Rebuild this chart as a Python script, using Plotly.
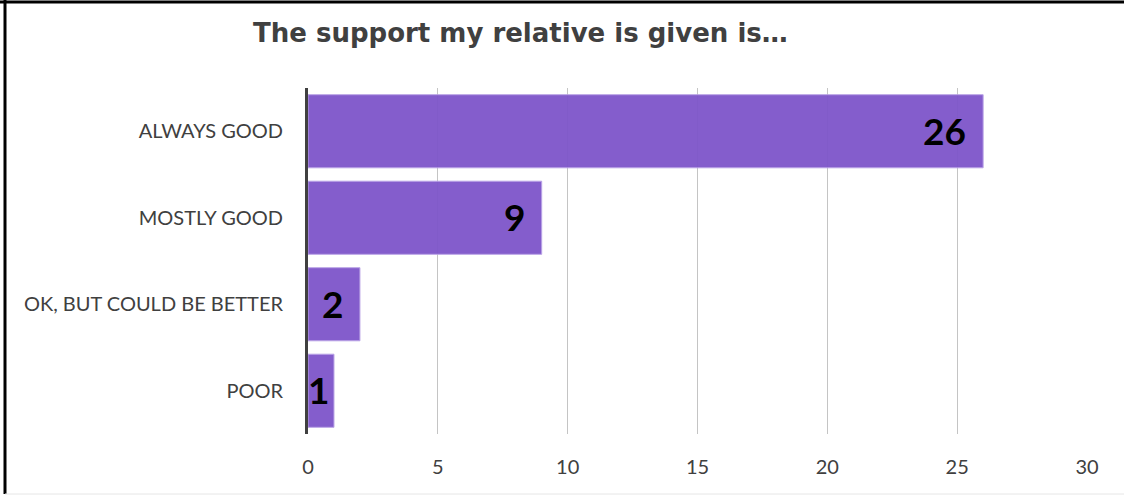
import plotly.graph_objects as go

# Survey responses
categories = ["ALWAYS GOOD", "MOSTLY GOOD", "OK, BUT COULD BE BETTER", "POOR"]
counts = [26, 9, 2, 1]
x_ticks = [0, 5, 10, 15, 20, 25, 30]

W, H = 1124, 495
ML, MR, MT, MB = 308, 37, 88, 61
plot_w = W - ML - MR
plot_h = H - MT - MB

BAR = "#7f57ca"
TXT = "#404040"

fig = go.Figure(
    go.Bar(
        x=counts,
        y=categories,
        orientation="h",
        marker=dict(color=BAR, opacity=0.96, line=dict(color="#b8a0e6", width=1)),
        hoverinfo="skip",
    )
)

# Value labels sitting inside the bar ends
for cat, v in zip(categories, counts):
    fig.add_annotation(
        x=v, y=cat, xref="x", yref="y",
        text=f"<b>{v}</b>", showarrow=False,
        xanchor="right", yanchor="middle",
        xshift=-15 if v >= 2 else -3, yshift=1,
        font=dict(family="Lato", size=37, color="#000000"),
    )

# Frame: heavy top and left edges, faint bottom edge
px_x = lambda px: (px - ML) / plot_w
px_y = lambda py: 1 - (py - MT) / plot_h
fig.add_shape(type="line", xref="paper", yref="paper",
              x0=px_x(0), x1=px_x(W), y0=px_y(2), y1=px_y(2),
              line=dict(color="#000000", width=3))
fig.add_shape(type="line", xref="paper", yref="paper",
              x0=px_x(5), x1=px_x(5), y0=px_y(0), y1=px_y(494),
              line=dict(color="#000000", width=3))
fig.add_shape(type="line", xref="paper", yref="paper",
              x0=px_x(5), x1=px_x(W), y0=px_y(494), y1=px_y(494),
              line=dict(color="#e6e6e6", width=1))

fig.update_layout(
    width=W, height=H,
    margin=dict(l=ML, r=MR, t=MT, b=MB),
    paper_bgcolor="white",
    plot_bgcolor="white",
    bargap=0.155,
    showlegend=False,
    title=dict(
        text="<b>The support my relative is given is…</b>",
        xref="container", yref="container",
        x=253 / W, xanchor="left",
        y=1 - 33 / H, yanchor="middle",
        font=dict(family="DejaVu Sans", size=26, color=TXT),
    ),
    xaxis=dict(
        range=[0, 30],
        tickvals=x_ticks,
        showgrid=True, gridcolor="#c4c4c4", gridwidth=1,
        zeroline=False, showline=False,
        ticks="", ticklabelstandoff=19,
        tickfont=dict(family="Lato", size=20, color=TXT),
        fixedrange=True,
    ),
    yaxis=dict(
        autorange="reversed",
        showgrid=False, zeroline=False,
        showline=True, linecolor="#404040", linewidth=3,
        ticks="", ticklabelstandoff=18,
        tickfont=dict(family="Lato", size=20, color=TXT),
        fixedrange=True,
    ),
)

fig.write_html("out.html")
